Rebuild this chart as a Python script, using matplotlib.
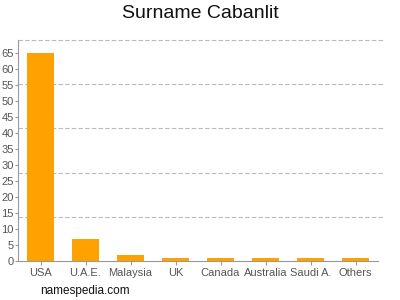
import matplotlib
matplotlib.use('Agg')
import matplotlib.pyplot as plt
import numpy as np

plt.rcParams['font.family'] = ['Liberation Sans', 'DejaVu Sans']

countries = ['USA', 'U.A.E.', 'Malaysia', 'UK', 'Canada', 'Australia', 'Saudi A.', 'Others']
counts = [65, 7, 2, 1, 1, 1, 1, 1]
y_ticks = list(range(0, 70, 5))
y_max = 69
grid_lines = [13.8, 27.6, 41.4, 55.2, 69]

fig = plt.figure(figsize=(4, 3), dpi=100)
# axes in pixel coords: left 18, right 378, bottom y=261, top y=40
ax = fig.add_axes([18/400, 1 - 261/300, 360/400, 221/300])

x = np.arange(len(countries))
ax.bar(x, counts, width=0.62, color='#ffa100', edgecolor='none', zorder=3)

ax.set_xlim(-0.5, len(countries) - 0.5)
ax.set_ylim(0, y_max)
ax.set_yticks(y_ticks)
ax.set_xticks(x)
ax.set_xticklabels(countries)
for gy in grid_lines:
    ax.plot([-0.5, len(countries) - 0.4], [gy, gy], color='#bbbbbb',
            linestyle=(0, (4, 2)), linewidth=0.8, zorder=1, clip_on=False)

for s in ['top', 'right']:
    ax.spines[s].set_visible(False)
for s in ['left', 'bottom']:
    ax.spines[s].set_color('#999999')
    ax.spines[s].set_linewidth(0.8)
ax.tick_params(axis='y', colors='#999999', labelcolor='#555555', labelsize=8,
               length=2, width=0.8, pad=1)
ax.tick_params(axis='x', colors='#999999', labelcolor='#555555', labelsize=8,
               length=3, width=0.8, pad=2)

fig.text(0.5, 1 - 14/300, 'Surname Cabanlit', ha='center', va='center', fontsize=14, color='#111111')
fig.text(40/400, 1 - 291/300, 'namespedia.com', ha='left', va='center', fontsize=8.5, color='#111111')

fig.savefig('out.png', dpi=100)
